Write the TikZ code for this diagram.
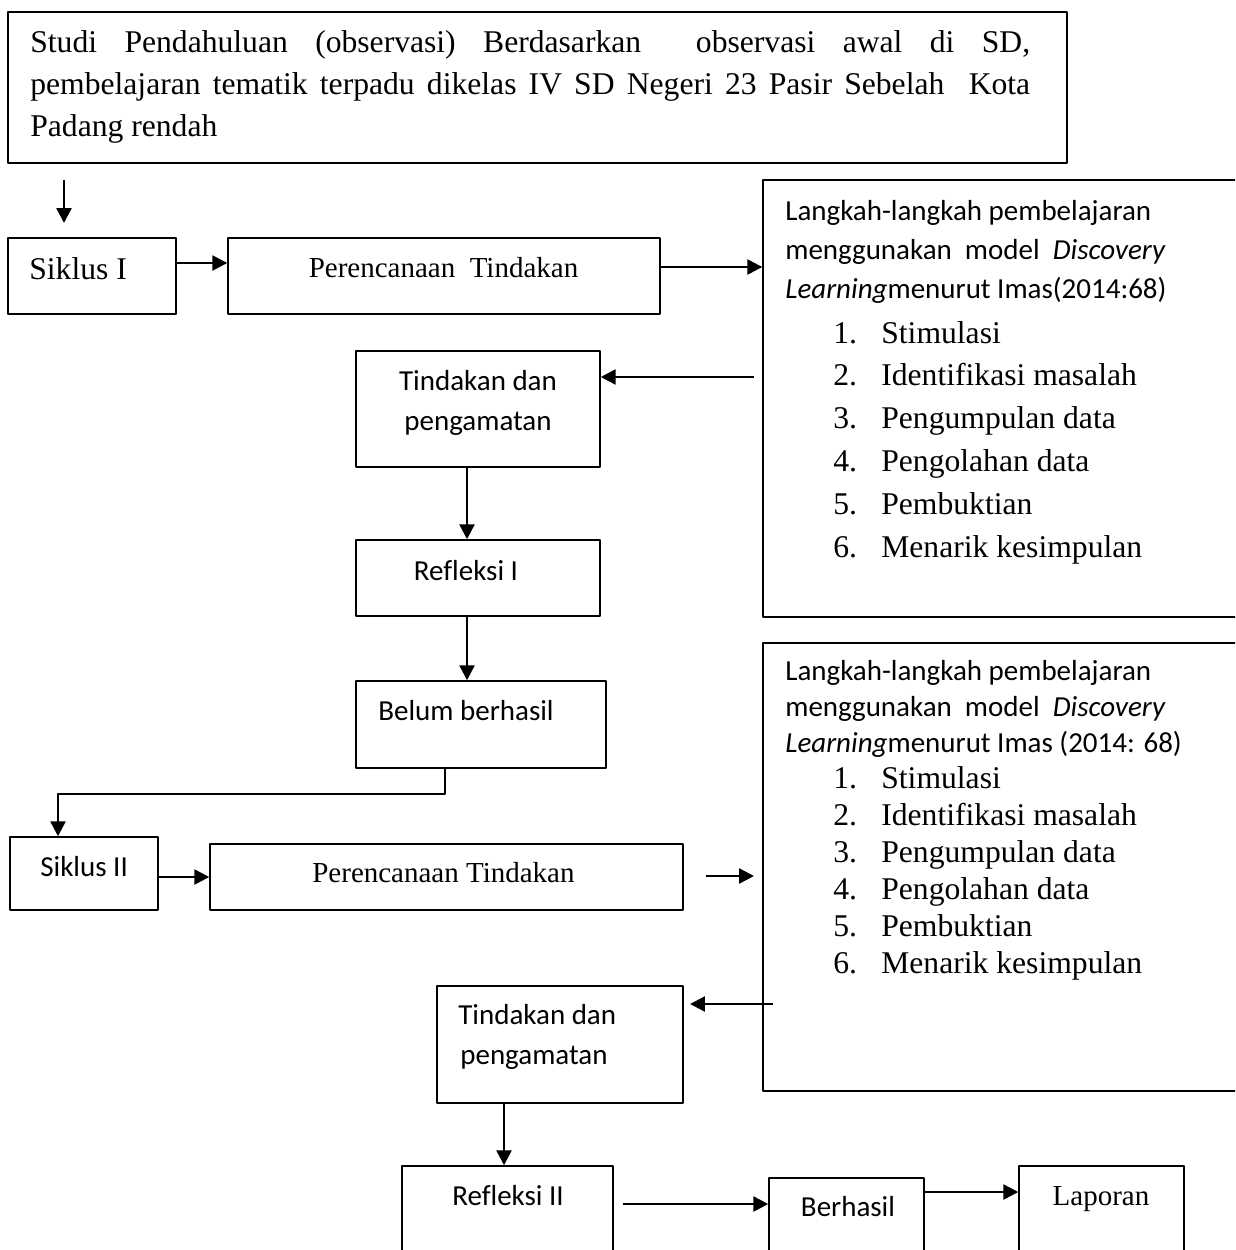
\documentclass[tikz,border=0pt]{standalone}
\usepackage{fontspec}
\setmainfont{Liberation Serif}
\newfontfamily\cbr[Ligatures=NoCommon]{Carlito}
\usetikzlibrary{arrows.meta}
\tikzset{
	box/.style={draw, line width=.85pt, inner sep=0pt},
	tnr/.style={font=\fontsize{18}{24}\selectfont, inner sep=0pt},
	tnrs/.style={font=\fontsize{16.5}{22}\selectfont, inner sep=0pt},
	cal/.style={font=\cbr\fontsize{16.5}{22}\selectfont, inner sep=0pt},
	arr/.style={->, line width=1.4pt}
}
\begin{document}
\begin{tikzpicture}[x=0.02cm, y=-0.02cm, line join=round, >={Triangle[length=8.5pt,width=8.5pt]}]
	\useasboundingbox (0,0) rectangle (1235,1250);
	\clip (0,0) rectangle (1235,1250);
	% kotak
	\node[box, minimum width=21.18cm, minimum height=3.02cm] (obs) at (537.5,87.5) {};
	\node[box, minimum width=3.36cm, minimum height=1.52cm] (sik1) at (92,276) {};
	\node[box, minimum width=8.64cm, minimum height=1.52cm] (plan1) at (444,276) {};
	\node[box, minimum width=10.74cm, minimum height=8.74cm] (steps1) at (1031.5,398.5) {};
	\node[box, minimum width=4.88cm, minimum height=2.32cm] (act1) at (478,409) {};
	\node[box, minimum width=4.88cm, minimum height=1.52cm] (refl1) at (478,578) {};
	\node[box, minimum width=5cm, minimum height=1.74cm] (fail) at (481,724.5) {};
	\node[box, minimum width=2.96cm, minimum height=1.46cm] (sik2) at (84,873.5) {};
	\node[box, minimum width=9.46cm, minimum height=1.32cm] (plan2) at (446.5,877) {};
	\node[box, minimum width=10.74cm, minimum height=8.96cm] (steps2) at (1031.5,867) {};
	\node[box, minimum width=4.92cm, minimum height=2.34cm] (act2) at (560,1044.5) {};
	\node[box, minimum width=4.22cm, minimum height=2.68cm] (refl2) at (507.5,1233) {};
	\node[box, minimum width=3.1cm, minimum height=2.44cm] (ok) at (846.5,1239) {};
	\node[box, minimum width=3.3cm, minimum height=2.68cm] (rep) at (1101.5,1233) {};
	% teks
	\node[tnr, text width=20cm, align=justify, anchor=north west, font=\fontsize{18}{23.9}\selectfont] (obst) at (30,30)
		{Studi Pendahuluan (observasi) Berdasarkan\ \ observasi awal di SD,\linebreak pembelajaran tematik terpadu dikelas IV SD Negeri 23 Pasir Sebelah\ \ Kota\linebreak Padang rendah};
	\node[tnr, anchor=base west] (sik1t) at (29,279) {Siklus I};
	\node[tnrs, anchor=base] (plan1t) at (443.5,277) {Perencanaan\ \ Tindakan};
	\node[cal, anchor=base] (act1t) at (478,390) {Tindakan dan};
	\node[cal, anchor=base] (act1u) at (478,430) {pengamatan};
	\node[cal, anchor=base] (refl1t) at (466,580) {Refleksi I};
	\node[cal, anchor=base west] (failt) at (378,720) {Belum berhasil};
	\node[cal, anchor=base west] (sik2t) at (40,876) {Siklus II};
	\node[tnrs, anchor=base west] (plan2t) at (312,882) {Perencanaan Tindakan};
	\node[cal, anchor=base west] (act2t) at (458,1024) {Tindakan dan};
	\node[cal, anchor=base west] (act2u) at (460,1064) {pengamatan};
	\node[cal, anchor=base west] (refl2t) at (452,1205) {Refleksi II};
	\node[cal, anchor=base] (okt) at (848,1216) {Berhasil};
	\node[tnrs, anchor=base] (rept) at (1101,1205) {Laporan};
	\foreach \y/\txt [count=\i] in {220/{Langkah-langkah pembelajaran}, 259/{menggunakan\ \ model\ \ \textit{Discovery}}, 298/{\textit{Learning}menurut Imas(2014:68)}}
		\node[cal, anchor=base west] (ha\i) at (785,\y) {\txt};
	\foreach \y/\txt [count=\i] in {680/{Langkah-langkah pembelajaran}, 716/{menggunakan\ \ model\ \ \textit{Discovery}}, 752/{\textit{Learning}menurut Imas (2014: 68)}}
		\node[cal, anchor=base west] (hb\i) at (785,\y) {\txt};
	\foreach \txt [count=\i] in {Stimulasi, Identifikasi masalah, Pengumpulan data, Pengolahan data, Pembuktian, Menarik kesimpulan} {
		\node[tnr, anchor=base west] (la\i) at (833,{300.2+42.8*\i}) {\makebox[.96cm][l]{\i.}\txt};
		\node[tnr, anchor=base west] (lb\i) at (833,{751+37*\i}) {\makebox[.96cm][l]{\i.}\txt};
	}
	% panah
	\coordinate (in1) at (64,180);
	\coordinate (in2) at (64,223);
	\draw[arr] (in1) -- (in2);
	\draw[arr] ([yshift=.26cm]sik1.east) -- ([yshift=.26cm]plan1.west);
	\coordinate (p1) at ([yshift=.18cm]plan1.east);
	\draw[arr] (p1) -- (p1 -| steps1.west);
	\coordinate (q1) at (754,377);
	\draw[arr] (q1) -- (q1 -| act1.east);
	\coordinate (r1) at ([xshift=-.22cm]act1.south);
	\draw[arr] (r1) -- (r1 |- refl1.north);
	\coordinate (r2) at ([xshift=-.22cm]refl1.south);
	\draw[arr] (r2) -- (r2 |- fail.north);
	\coordinate (f1) at ([xshift=-.72cm]fail.south);
	\draw[arr] (f1) -- ++(0,25) -| ([xshift=-.52cm]sik2.north);
	\draw[arr] (sik2.east |- 0,877) -- (plan2.west |- 0,877);
	\coordinate (p2) at (706,876);
	\coordinate (p3) at (754,876);
	\draw[arr] (p2) -- (p3);
	\coordinate (q2) at (773,1004);
	\coordinate (q3) at (690,1004);
	\draw[arr] (q2) -- (q3);
	\coordinate (t2) at ([xshift=-1.12cm]act2.south);
	\draw[arr] (t2) -- (t2 |- refl2.north);
	\coordinate (u1) at (623,1204);
	\draw[arr] (u1) -- (u1 -| ok.west);
	\draw[arr] (ok.east |- 0,1192) -- (rep.west |- 0,1192);
\end{tikzpicture}
\end{document}
